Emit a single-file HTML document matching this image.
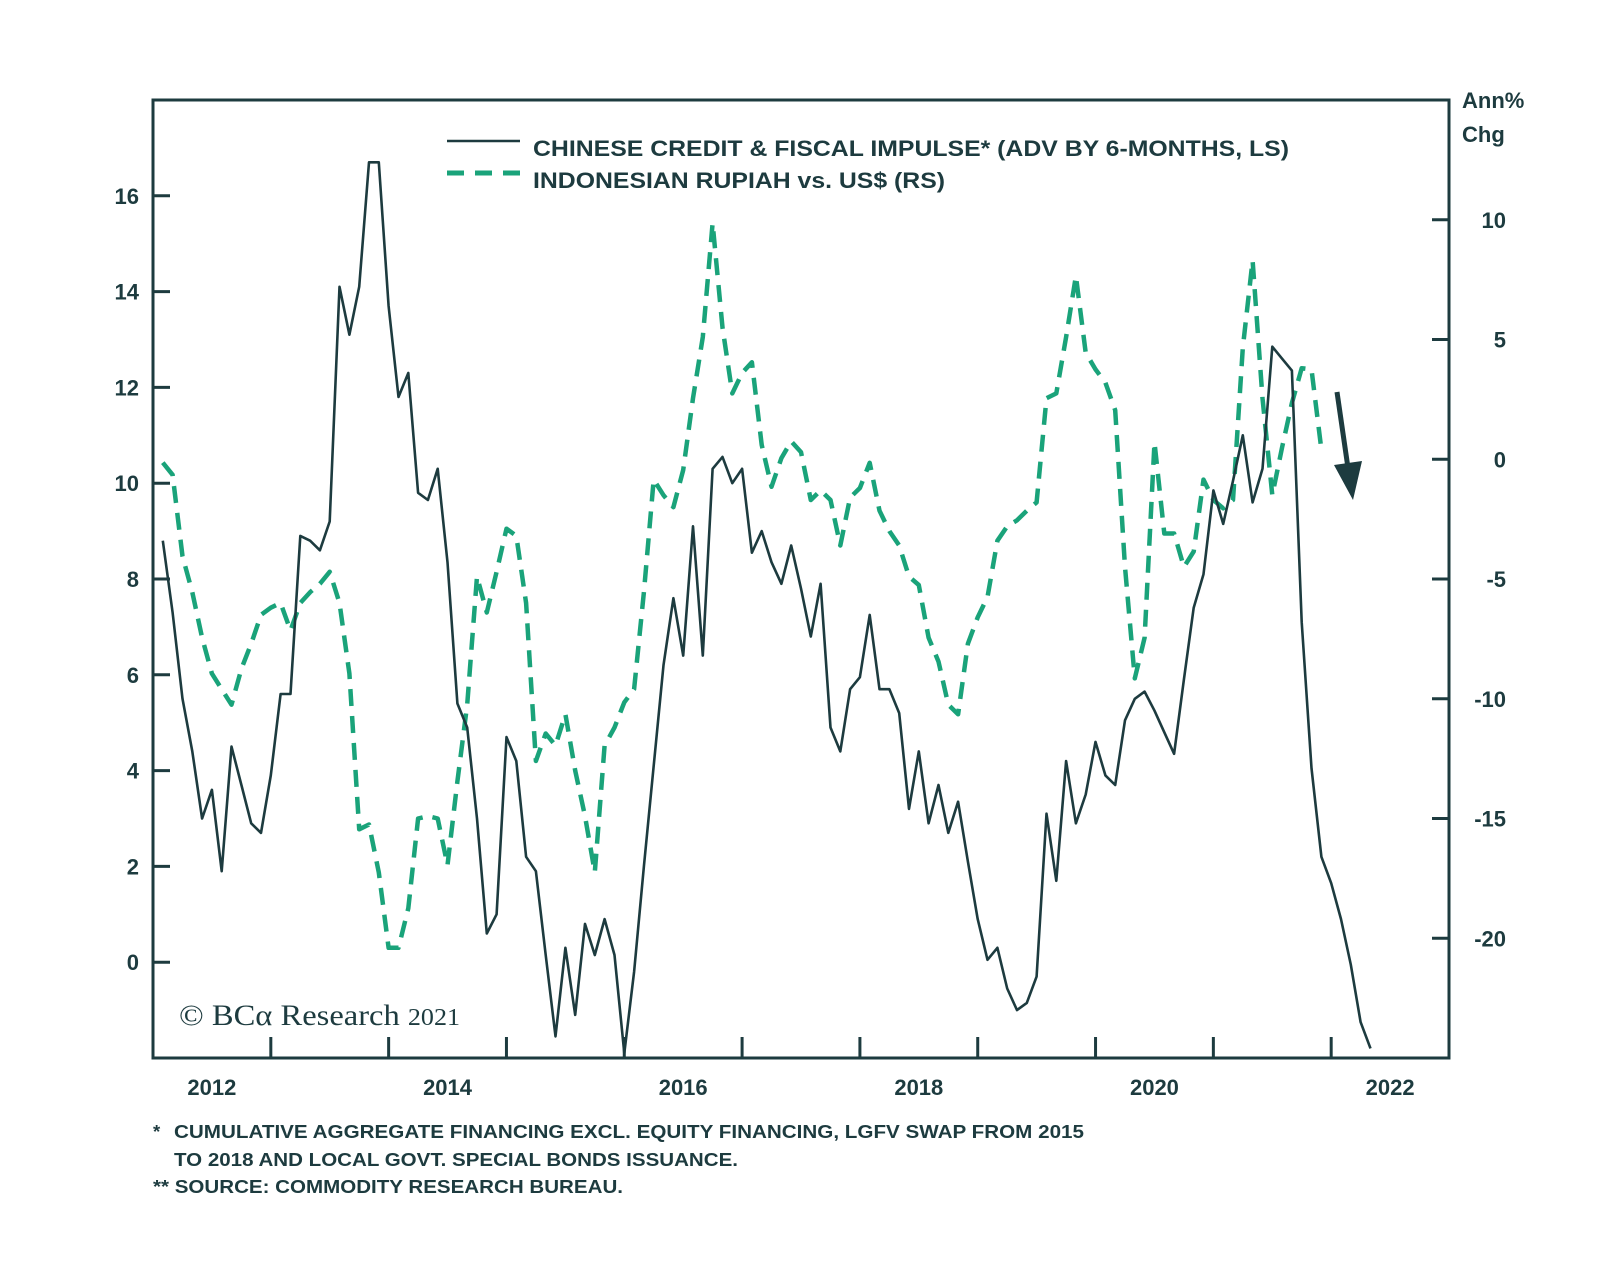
<!DOCTYPE html>
<html><head><meta charset="utf-8"><style>
html,body{margin:0;padding:0;background:#fff;}
svg{display:block;font-family:"Liberation Sans",sans-serif;font-weight:bold;}
</style></head><body>
<svg id="chart" width="1600" height="1281" viewBox="0 0 1600 1281" xmlns="http://www.w3.org/2000/svg">
<rect x="153" y="100" width="1296" height="958" fill="none" stroke="#1d3b3f" stroke-width="3"/>
<g id="axes"></g>
<g id="series"></g>
<g>
<line x1="447" y1="141" x2="520" y2="141" stroke="#1d3b3f" stroke-width="2.5"/>
<line x1="447" y1="173" x2="520" y2="173" stroke="#1aa37a" stroke-width="5" stroke-dasharray="17,11"/>
<text x="533" y="156" font-size="22.5" fill="#1d3b3f" textLength="756" lengthAdjust="spacingAndGlyphs">CHINESE CREDIT &amp; FISCAL IMPULSE* (ADV BY 6-MONTHS, LS)</text>
<text x="533" y="188" font-size="22.5" fill="#1d3b3f" textLength="412" lengthAdjust="spacingAndGlyphs">INDONESIAN RUPIAH vs. US$ (RS)</text>
</g>
<text x="1462" y="108" font-size="22" fill="#1d3b3f">Ann%</text>
<text x="1462" y="142" font-size="22" fill="#1d3b3f">Chg</text>
<text x="179" y="1025" font-family="Liberation Serif,serif" font-weight="normal" font-size="30" fill="#1d3b3f" textLength="281" lengthAdjust="spacingAndGlyphs">© BCα Research <tspan font-size="24">2021</tspan></text>
<g>
<line x1="1337" y1="392" x2="1348" y2="468" stroke="#1d3b3f" stroke-width="5"/>
<polygon points="1334,465 1362,461 1353,500" fill="#1d3b3f"/>
</g>
<g font-size="18.5" fill="#1d3b3f">
<text x="153" y="1138">*</text>
<text x="174" y="1138" textLength="910" lengthAdjust="spacingAndGlyphs">CUMULATIVE AGGREGATE FINANCING EXCL. EQUITY FINANCING, LGFV SWAP FROM 2015</text>
<text x="174" y="1166" textLength="564" lengthAdjust="spacingAndGlyphs">TO 2018 AND LOCAL GOVT. SPECIAL BONDS ISSUANCE.</text>
<text x="153" y="1193" textLength="470" lengthAdjust="spacingAndGlyphs">** SOURCE: COMMODITY RESEARCH BUREAU.</text>
</g>
</svg>
<script>
const leftTicks=[0,2,4,6,8,10,12,14,16];
const rightTicks=[-20,-15,-10,-5,0,5,10];
const yearLabels=[2012,2014,2016,2018,2020,2022];
const yearTicks=[2013,2014,2015,2016,2017,2018,2019,2020,2021,2022];
const seriesStart=2012+1/12;
const creditValues=[8.8,7.3,5.5,4.4,3.0,3.6,1.9,4.5,3.7,2.9,2.7,3.9,5.6,5.6,8.9,8.8,8.6,9.2,14.1,13.1,14.1,16.7,16.7,13.7,11.8,12.3,9.8,9.65,10.3,8.35,5.4,4.9,3.0,0.6,1.0,4.7,4.2,2.2,1.9,0.15,-1.55,0.3,-1.1,0.8,0.15,0.9,0.15,-1.9,-0.2,2.0,4.1,6.2,7.6,6.4,9.1,6.4,10.3,10.55,10.0,10.3,8.55,9.0,8.35,7.9,8.7,7.8,6.8,7.9,4.9,4.4,5.7,5.95,7.25,5.7,5.7,5.2,3.2,4.4,2.9,3.7,2.7,3.35,2.1,0.9,0.05,0.3,-0.55,-1.0,-0.85,-0.3,3.1,1.7,4.2,2.9,3.5,4.6,3.9,3.7,5.05,5.5,5.65,5.25,4.8,4.35,5.9,7.4,8.1,9.85,9.15,10.05,11.0,9.6,10.3,12.85,12.6,12.35,7.1,4.05,2.2,1.65,0.9,-0.05,-1.25,-1.8];
const rupiahValues=[-0.14,-0.65,-4.05,-5.55,-7.45,-8.95,-9.6,-10.25,-8.75,-7.7,-6.5,-6.2,-6.0,-7.15,-6.0,-5.55,-5.2,-4.7,-6.0,-8.95,-15.45,-15.25,-17.25,-20.4,-20.4,-18.75,-15.0,-14.9,-15.0,-16.95,-13.45,-10.25,-4.9,-6.4,-4.7,-2.9,-3.2,-6.0,-12.6,-11.45,-11.95,-10.65,-13.0,-14.9,-17.25,-11.95,-11.2,-10.15,-9.6,-5.55,-0.85,-1.5,-2.0,-0.45,2.55,5.1,9.85,5.5,2.75,3.6,4.05,0.6,-1.15,0.05,0.75,0.3,-1.7,-1.3,-1.7,-3.6,-1.6,-1.2,-0.15,-2.15,-3.0,-3.6,-4.9,-5.25,-7.45,-8.45,-10.25,-10.65,-7.7,-6.6,-5.75,-3.4,-2.8,-2.55,-2.15,-1.8,2.55,2.75,5.1,7.65,4.45,3.75,3.2,2.05,-4.5,-9.15,-7.45,0.7,-3.1,-3.1,-4.5,-3.85,-0.85,-1.7,-2.05,-1.7,4.65,8.3,2.55,-1.5,0.5,2.35,3.8,3.75,0.4];

const X0=153,X1=1449,Y0=100,Y1=1058;
const xS=t=>X0+(t-2012)/(2023-2012)*(X1-X0);
const yL=v=>Y1-(v-(-2))/(18-(-2))*(Y1-Y0);
const yR=v=>Y1-(v-(-25))/(15-(-25))*(Y1-Y0);
const NS='http://www.w3.org/2000/svg';
const C='#1d3b3f';
function mk(tag,attrs,parent){const e=document.createElementNS(NS,tag);for(const k in attrs)e.setAttribute(k,attrs[k]);parent.appendChild(e);return e;}
const axes=document.getElementById('axes');
const series=document.getElementById('series');
leftTicks.forEach(v=>{
  const y=yL(v);
  const l=mk('line',{x1:X0,y1:y,x2:X0+17,y2:y,stroke:C,'stroke-width':3},axes);
  
  
  const t=mk('text',{x:139,y:y+8,'text-anchor':'end','font-size':22,fill:C},axes);
  t.textContent=v;
  
  
});
rightTicks.forEach(v=>{
  const y=yR(v);
  const l=mk('line',{x1:X1-17,y1:y,x2:X1,y2:y,stroke:C,'stroke-width':3},axes);
  
  
  const t=mk('text',{x:1506,y:y+8,'text-anchor':'end','font-size':22,fill:C},axes);
  t.textContent=v;
  
  
});
yearTicks.forEach(yr=>{
  const x=xS(yr);
  const l=mk('line',{x1:x,y1:Y1,x2:x,y2:Y1-21,stroke:C,'stroke-width':3},axes);
  
  
});
yearLabels.forEach(yr=>{
  const t=mk('text',{x:xS(yr+0.5),y:1095,'text-anchor':'middle','font-size':22,fill:C},axes);
  t.textContent=yr;
  
  
});
const rp=rupiahValues.map((v,i)=>xS(seriesStart+i/12).toFixed(1)+','+yR(v).toFixed(1)).join(' ');
const g=mk('polyline',{points:rp,fill:'none',stroke:'#1aa37a','stroke-width':4.5,'stroke-dasharray':'17,10','stroke-linejoin':'round'},series);


const cp=creditValues.map((v,i)=>xS(seriesStart+i/12).toFixed(1)+','+yL(v).toFixed(1)).join(' ');
const b=mk('polyline',{points:cp,fill:'none',stroke:C,'stroke-width':2.6,'stroke-linejoin':'round'},series);


</script>
</body></html>
